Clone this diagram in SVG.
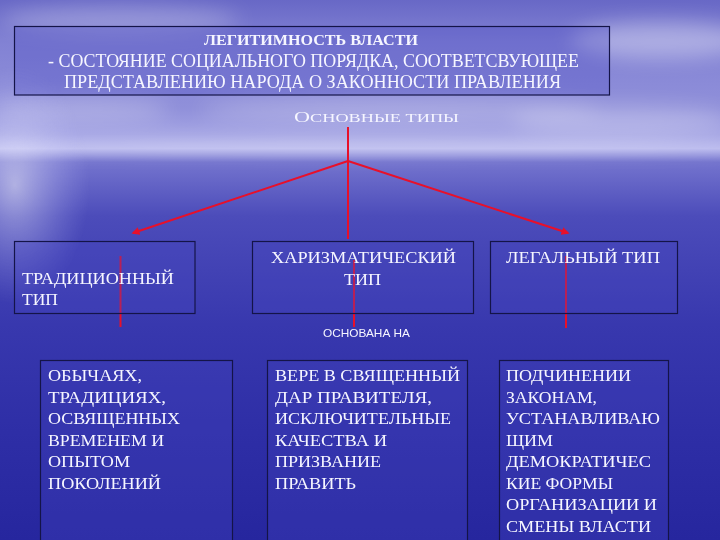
<svg xmlns="http://www.w3.org/2000/svg" width="720" height="540" viewBox="0 0 720 540">
<defs>
<linearGradient id="bg" x1="0" y1="0" x2="0" y2="1">
<stop offset="0" stop-color="#6868c6"/>
<stop offset="0.08" stop-color="#8282d4"/>
<stop offset="0.2" stop-color="#9090da"/>
<stop offset="0.25" stop-color="#a4a4e4"/>
<stop offset="0.275" stop-color="#babaee"/>
<stop offset="0.3" stop-color="#7474ce"/>
<stop offset="0.4" stop-color="#4c4cba"/>
<stop offset="0.6" stop-color="#3838ae"/>
<stop offset="0.8" stop-color="#2e2ea6"/>
<stop offset="1" stop-color="#26269e"/>
</linearGradient>
<radialGradient id="glow" cx="0.5" cy="0.5" r="0.5">
<stop offset="0" stop-color="#ffffff" stop-opacity="0.5"/>
<stop offset="0.5" stop-color="#e0e0ff" stop-opacity="0.25"/>
<stop offset="1" stop-color="#c0c0ff" stop-opacity="0"/>
</radialGradient>
<filter id="blur" x="-50%" y="-50%" width="200%" height="200%"><feGaussianBlur stdDeviation="10"/></filter>
<marker id="ah" viewBox="0 0 10 10" refX="8" refY="5" markerWidth="4" markerHeight="4" orient="auto">
<path d="M0,0 L10,5 L0,10 z" fill="#e8102a"/>
</marker>
</defs>
<style>
.box{fill:#4646c0;fill-opacity:0.3;stroke:#141448;stroke-width:1.2}
.t{font-family:"Liberation Serif","Times New Roman",serif;fill:#f6f6ff}
.s{font-family:"Liberation Sans",Arial,sans-serif;fill:#f6f6ff}
.red{stroke:#e8102a;stroke-width:2;fill:none}
</style>
<rect width="720" height="540" fill="url(#bg)"/>
<g filter="url(#blur)" fill="#ffffff">
<ellipse cx="660" cy="40" rx="90" ry="18" opacity="0.35"/>
<ellipse cx="120" cy="20" rx="120" ry="14" opacity="0.25"/>
<ellipse cx="400" cy="110" rx="200" ry="12" opacity="0.25"/>
<ellipse cx="620" cy="120" rx="110" ry="14" opacity="0.25"/>
<ellipse cx="80" cy="110" rx="90" ry="12" opacity="0.25"/>
<ellipse cx="360" cy="146" rx="380" ry="5" opacity="0.35"/>
</g>
<ellipse cx="15" cy="185" rx="75" ry="120" fill="url(#glow)"/>

<g id="connectors">
<line class="red" x1="348" y1="127" x2="348" y2="161"/>
<line class="red" x1="348" y1="161" x2="133" y2="233" marker-end="url(#ah)"/>
<line class="red" x1="348" y1="161" x2="568" y2="233" marker-end="url(#ah)"/>
<line class="red" x1="348" y1="161" x2="348" y2="239"/>
<line class="red" x1="120.5" y1="256" x2="120.5" y2="327"/>
<line class="red" x1="354" y1="260" x2="354" y2="327"/>
<line class="red" x1="566" y1="256" x2="566" y2="328"/>
</g>

<g id="definition">
<rect class="box" x="14.5" y="26.5" width="595" height="68.5"/>
<text class="t" x="311" y="45" font-size="14" font-weight="bold" text-anchor="middle" textLength="214" lengthAdjust="spacingAndGlyphs">ЛЕГИТИМНОСТЬ ВЛАСТИ</text>
<text class="t" x="48" y="67" font-size="18" textLength="531" lengthAdjust="spacingAndGlyphs">- СОСТОЯНИЕ СОЦИАЛЬНОГО ПОРЯДКА, СООТВЕТСВУЮЩЕЕ</text>
<text class="t" x="64" y="88" font-size="18" textLength="497" lengthAdjust="spacingAndGlyphs">ПРЕДСТАВЛЕНИЮ НАРОДА О ЗАКОННОСТИ ПРАВЛЕНИЯ</text>
</g>

<g id="types-label">
<text class="t" x="294" y="122" font-size="14" textLength="165" lengthAdjust="spacingAndGlyphs">О<tspan font-size="11.5">СНОВНЫЕ ТИПЫ</tspan></text>
</g>

<g id="traditional">
<rect class="box" x="14.5" y="241.5" width="180.5" height="72"/>
<text class="t" x="22" y="284" font-size="17" textLength="152" lengthAdjust="spacingAndGlyphs">ТРАДИЦИОННЫЙ</text>
<text class="t" x="22" y="305" font-size="17" textLength="36" lengthAdjust="spacingAndGlyphs">ТИП</text>
</g>
<g id="charismatic">
<rect class="box" x="252.5" y="241.5" width="221" height="72"/>
<text class="t" x="271" y="263" font-size="17" textLength="185" lengthAdjust="spacingAndGlyphs">ХАРИЗМАТИЧЕСКИЙ</text>
<text class="t" x="344" y="285" font-size="17" textLength="37" lengthAdjust="spacingAndGlyphs">ТИП</text>
</g>
<g id="legal">
<rect class="box" x="490.5" y="241.5" width="187" height="72"/>
<text class="t" x="506" y="263" font-size="17" textLength="154" lengthAdjust="spacingAndGlyphs">ЛЕГАЛЬНЫЙ ТИП</text>
</g>

<g id="based-on">
<text class="s" x="323" y="337" font-size="11" textLength="87" lengthAdjust="spacingAndGlyphs">ОСНОВАНА НА</text>
</g>

<g id="traditional-basis">
<rect class="box" x="40.5" y="360.5" width="192" height="190"/>
<text class="t" font-size="16" x="48" y="381" textLength="94" lengthAdjust="spacingAndGlyphs">ОБЫЧАЯХ,</text>
<text class="t" font-size="16" x="48" y="403" textLength="118" lengthAdjust="spacingAndGlyphs">ТРАДИЦИЯХ,</text>
<text class="t" font-size="16" x="48" y="424" textLength="132" lengthAdjust="spacingAndGlyphs">ОСВЯЩЕННЫХ</text>
<text class="t" font-size="16" x="48" y="446" textLength="116" lengthAdjust="spacingAndGlyphs">ВРЕМЕНЕМ И</text>
<text class="t" font-size="16" x="48" y="467" textLength="82" lengthAdjust="spacingAndGlyphs">ОПЫТОМ</text>
<text class="t" font-size="16" x="48" y="489" textLength="113" lengthAdjust="spacingAndGlyphs">ПОКОЛЕНИЙ</text>
</g>
<g id="charismatic-basis">
<rect class="box" x="267.5" y="360.5" width="200" height="190"/>
<text class="t" font-size="16" x="275" y="381" textLength="185" lengthAdjust="spacingAndGlyphs">ВЕРЕ В СВЯЩЕННЫЙ</text>
<text class="t" font-size="16" x="275" y="403" textLength="157" lengthAdjust="spacingAndGlyphs">ДАР ПРАВИТЕЛЯ,</text>
<text class="t" font-size="16" x="275" y="424" textLength="176" lengthAdjust="spacingAndGlyphs">ИСКЛЮЧИТЕЛЬНЫЕ</text>
<text class="t" font-size="16" x="275" y="446" textLength="112" lengthAdjust="spacingAndGlyphs">КАЧЕСТВА И</text>
<text class="t" font-size="16" x="275" y="467" textLength="106" lengthAdjust="spacingAndGlyphs">ПРИЗВАНИЕ</text>
<text class="t" font-size="16" x="275" y="489" textLength="81" lengthAdjust="spacingAndGlyphs">ПРАВИТЬ</text>
</g>
<g id="legal-basis">
<rect class="box" x="499.5" y="360.5" width="169" height="190"/>
<text class="t" font-size="16" x="506" y="381" textLength="125" lengthAdjust="spacingAndGlyphs">ПОДЧИНЕНИИ</text>
<text class="t" font-size="16" x="506" y="403" textLength="91" lengthAdjust="spacingAndGlyphs">ЗАКОНАМ,</text>
<text class="t" font-size="16" x="506" y="424" textLength="154" lengthAdjust="spacingAndGlyphs">УСТАНАВЛИВАЮ</text>
<text class="t" font-size="16" x="506" y="446" textLength="47" lengthAdjust="spacingAndGlyphs">ЩИМ</text>
<text class="t" font-size="16" x="506" y="467" textLength="145" lengthAdjust="spacingAndGlyphs">ДЕМОКРАТИЧЕС</text>
<text class="t" font-size="16" x="506" y="489" textLength="107" lengthAdjust="spacingAndGlyphs">КИЕ ФОРМЫ</text>
<text class="t" font-size="16" x="506" y="510" textLength="151" lengthAdjust="spacingAndGlyphs">ОРГАНИЗАЦИИ И</text>
<text class="t" font-size="16" x="506" y="532" textLength="145" lengthAdjust="spacingAndGlyphs">СМЕНЫ ВЛАСТИ</text>
</g>
</svg>
